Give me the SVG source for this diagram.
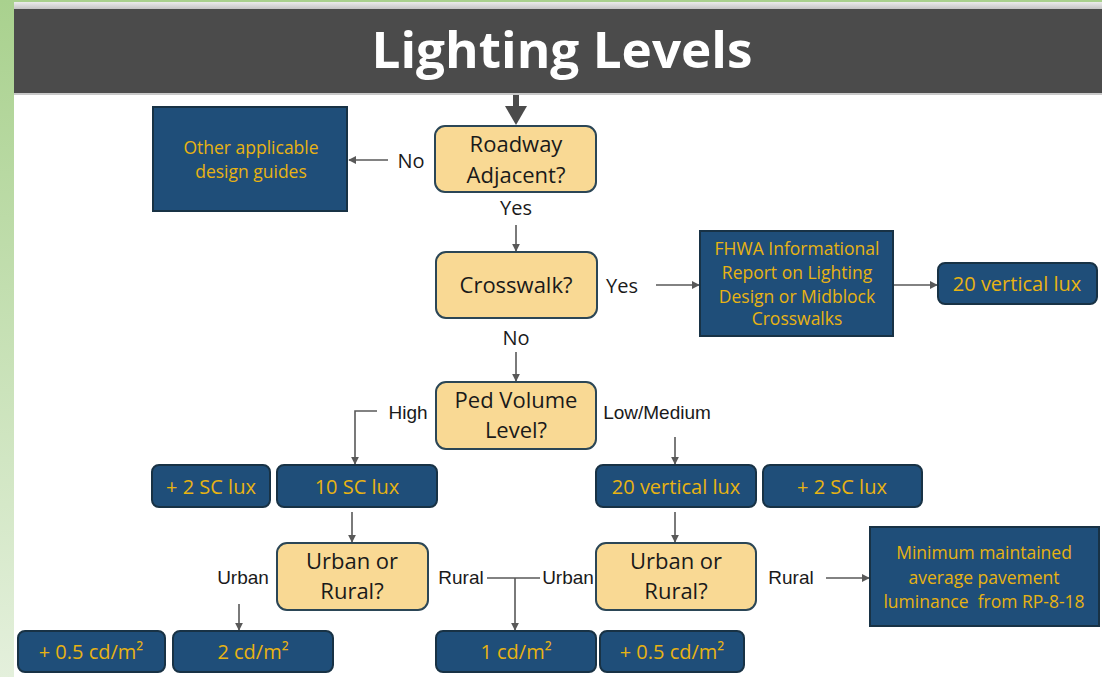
<svg xmlns="http://www.w3.org/2000/svg" width="1102" height="677" viewBox="0 0 1102 677">
<defs>
<linearGradient id="side" x1="0" y1="0" x2="0" y2="1"><stop offset="0" stop-color="#a9d18e"/><stop offset="1" stop-color="#e4f0dc"/></linearGradient>
<linearGradient id="topbar" x1="0" y1="0" x2="0" y2="1"><stop offset="0" stop-color="#ececec"/><stop offset="1" stop-color="#c4c4c4"/></linearGradient>
<marker id="ah" viewBox="0 0 10 10" refX="9" refY="5" markerWidth="8" markerHeight="8" markerUnits="userSpaceOnUse" orient="auto"><path d="M0,0 L10,5 L0,10 z" fill="#595959"/></marker>
<style>
.q{fill:#f9d994;stroke:#2b4656;stroke-width:2}
.b{fill:#1f4e79;stroke:#183245;stroke-width:2}
.qt{font-family:"Open Sans","Liberation Sans",sans-serif;font-size:22px;fill:#1a1a1a;text-anchor:middle}
.bt{font-family:"Open Sans","Liberation Sans",sans-serif;font-size:17.5px;fill:#e8b312;text-anchor:middle}
.bt2{font-family:"Open Sans","Liberation Sans",sans-serif;font-size:20px;fill:#e8b312;text-anchor:middle}
.lb{font-family:"Open Sans","Liberation Sans",sans-serif;font-size:20px;fill:#1a1a1a;text-anchor:middle}
.ls{font-family:"Liberation Sans",sans-serif;font-size:19px;fill:#1a1a1a;text-anchor:middle}
.c{fill:none;stroke:#595959;stroke-width:1.6}
</style>
</defs>
<rect x="0" y="0" width="1102" height="677" fill="#ffffff"/>
<rect x="0" y="0" width="14" height="677" fill="url(#side)"/>
<rect x="14" y="0" width="1088" height="2" fill="#a9d18e"/>
<rect x="14" y="2" width="1088" height="7" fill="url(#topbar)"/>
<rect x="14" y="9" width="1088" height="84" fill="#4b4b4b"/>
<rect x="14" y="93" width="1088" height="2" fill="#c8c8c8"/>
<text x="562" y="68" font-family="Open Sans, Liberation Sans, sans-serif" font-weight="bold" font-size="50" fill="#ffffff" text-anchor="middle" textLength="381" lengthAdjust="spacingAndGlyphs">Lighting Levels</text>

<g id="connectors">
<path d="M516,95 V108" stroke="#4b4b4b" stroke-width="6" fill="none"/>
<path d="M505,106 L527,106 L516,125 z" fill="#4b4b4b"/>
<path class="c" d="M388,160 H349" marker-end="url(#ah)"/>
<path class="c" d="M516,225 V251" marker-end="url(#ah)"/>
<path class="c" d="M656,285 H699" marker-end="url(#ah)"/>
<path class="c" d="M893,285 H937" marker-end="url(#ah)"/>
<path class="c" d="M516,352 V381" marker-end="url(#ah)"/>
<path class="c" d="M377,411 H355 V464" marker-end="url(#ah)"/>
<path class="c" d="M675,437 V464" marker-end="url(#ah)"/>
<path class="c" d="M352,512 V542" marker-end="url(#ah)"/>
<path class="c" d="M239,604 V630" marker-end="url(#ah)"/>
<path class="c" d="M487,578 H540"/>
<path class="c" d="M515,578 V630" marker-end="url(#ah)"/>
<path class="c" d="M675,512 V542" marker-end="url(#ah)"/>
<path class="c" d="M826,578 H869" marker-end="url(#ah)"/>
</g>

<g id="labels">
<text class="lb" x="411" y="168">No</text>
<text class="lb" x="516" y="215">Yes</text>
<text class="lb" x="622" y="293">Yes</text>
<text class="lb" x="516" y="345">No</text>
<text class="ls" x="408" y="419">High</text>
<text class="ls" x="657" y="419">Low/Medium</text>
<text class="ls" x="243" y="584">Urban</text>
<text class="ls" x="461" y="584">Rural</text>
<text class="ls" x="568" y="584">Urban</text>
<text class="ls" x="791" y="584">Rural</text>
</g>

<g id="other"><rect class="b" x="153" y="107" width="194" height="104"/><text class="bt" x="251" y="154">Other applicable</text><text class="bt" x="251" y="178">design guides</text></g>
<g id="roadway"><rect class="q" x="435" y="126" width="161" height="66" rx="10"/><text class="qt" x="516" y="152">Roadway</text><text class="qt" x="516" y="183">Adjacent?</text></g>
<g id="crosswalk"><rect class="q" x="436" y="252" width="161" height="66" rx="10"/><text class="qt" x="516" y="293">Crosswalk?</text></g>
<g id="fhwa"><rect class="b" x="700" y="231" width="193" height="105"/><text class="bt" x="797" y="255">FHWA Informational</text><text class="bt" x="797" y="279">Report on Lighting</text><text class="bt" x="797" y="303">Design or Midblock</text><text class="bt" x="797" y="325">Crosswalks</text></g>
<g id="vlux1"><rect class="b" x="938" y="263" width="159" height="41" rx="7"/><text class="bt2" x="1017" y="291">20 vertical lux</text></g>
<g id="ped"><rect class="q" x="436" y="382" width="160" height="67" rx="10"/><text class="qt" x="516" y="408">Ped Volume</text><text class="qt" x="516" y="438">Level?</text></g>
<g id="sc2a"><rect class="b" x="152" y="465" width="118" height="42" rx="7"/><text class="bt2" x="211" y="494">+ 2 SC lux</text></g>
<g id="sc10"><rect class="b" x="277" y="465" width="160" height="42" rx="7"/><text class="bt2" x="357" y="494">10 SC lux</text></g>
<g id="vlux2"><rect class="b" x="596" y="465" width="160" height="42" rx="7"/><text class="bt2" x="676" y="494">20 vertical lux</text></g>
<g id="sc2b"><rect class="b" x="763" y="465" width="159" height="42" rx="7"/><text class="bt2" x="842" y="494">+ 2 SC lux</text></g>
<g id="ur1"><rect class="q" x="277" y="543" width="151" height="67" rx="10"/><text class="qt" x="352" y="569">Urban or</text><text class="qt" x="352" y="599">Rural?</text></g>
<g id="ur2"><rect class="q" x="596" y="543" width="160" height="67" rx="10"/><text class="qt" x="676" y="569">Urban or</text><text class="qt" x="676" y="599">Rural?</text></g>
<g id="minimum"><rect class="b" x="870" y="527" width="229" height="99"/><text class="bt" x="984" y="559">Minimum maintained</text><text class="bt" x="984" y="584">average pavement</text><text class="bt" x="984" y="608" xml:space="preserve" style="white-space:pre">luminance  from RP-8-18</text></g>
<g id="cd05a"><rect class="b" x="18" y="631" width="147" height="41" rx="7"/><text class="bt2" x="91" y="659">+ 0.5 cd/m²</text></g>
<g id="cd2"><rect class="b" x="173" y="631" width="160" height="41" rx="7"/><text class="bt2" x="253" y="659">2 cd/m²</text></g>
<g id="cd1"><rect class="b" x="436" y="631" width="160" height="41" rx="7"/><text class="bt2" x="516" y="659">1 cd/m²</text></g>
<g id="cd05b"><rect class="b" x="600" y="631" width="144" height="41" rx="7"/><text class="bt2" x="672" y="659">+ 0.5 cd/m²</text></g>
</svg>
